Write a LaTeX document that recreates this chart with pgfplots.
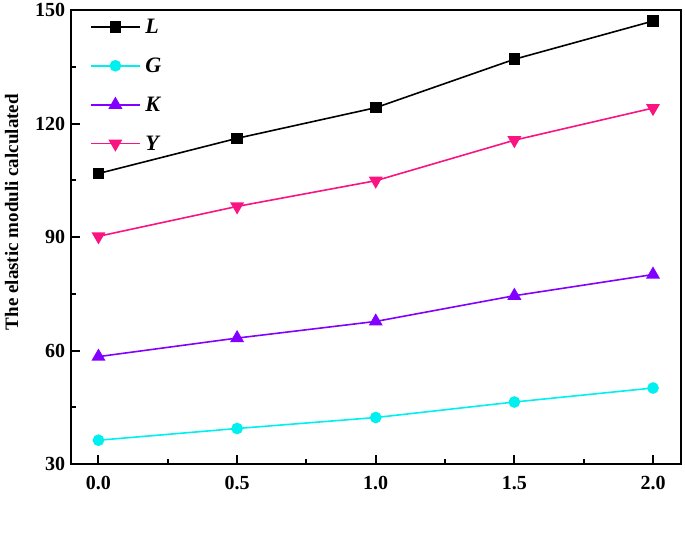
\documentclass[border=0pt]{standalone}
\usepackage{fontspec}
\setmainfont{Liberation Serif}
\usepackage{pgfplots}
\pgfplotsset{compat=1.18}

\definecolor{cL}{RGB}{0,0,0}
\definecolor{cG}{RGB}{0,240,240}
\definecolor{cK}{RGB}{130,0,255}
\definecolor{cY}{RGB}{250,20,130}

\begin{document}
\begin{tikzpicture}
\begin{axis}[
  scale only axis,
  width=610pt, height=454pt,
  xmin=-0.1, xmax=2.1,
  ymin=30, ymax=150,
  xtick={0,0.5,...,2},
  ytick={30,60,...,150},
  minor x tick num=1,
  minor y tick num=1,
  tick align=inside,
  xtick pos=bottom, ytick pos=left,
  major tick length=9pt, minor tick length=5pt,
  axis line style={line width=2.4pt},
  every tick/.style={line width=2pt, black},
  /pgf/number format/assume math mode=true,
  /pgf/number format/.cd, fixed, fixed zerofill, precision=1,
  /pgfplots/.cd,
  yticklabel style={/pgf/number format/precision=0, /pgf/number format/fixed zerofill=false, xshift=-2pt},
  ticklabel style={font=\fontsize{20}{22}\selectfont\bfseries},
  xticklabel style={yshift=-9pt},
  ylabel={The elastic moduli calculated},
  ylabel style={font=\fontsize{19}{21}\selectfont\bfseries, at={(axis description cs:-0.097,0.555)}, anchor=center},
  clip=false,
  legend style={at={(axis description cs:0.027,0.99)}, anchor=north west, draw=none, fill=none,
    font=\fontsize{22}{24}\selectfont\bfseries\itshape, row sep=19pt,
    nodes={inner xsep=5pt}},
  legend cell align=left,
  legend image code/.code={\draw[mark repeat=2,mark phase=2,#1] plot coordinates {(0cm,0cm) (0.85cm,0cm) (1.7cm,0cm)};},
]
\addplot[cL, line width=1.6pt, mark=square*, mark size=5pt] coordinates {
  (0,106.8) (0.5,116.1) (1.0,124.2) (1.5,137.0) (2.0,147.1)};
\addlegendentry{L}
\addplot[cG, line width=1.6pt, mark=*, mark size=5pt] coordinates {
  (0,36.3) (0.5,39.4) (1.0,42.3) (1.5,46.4) (2.0,50.1)};
\addlegendentry{G}
\addplot[cK, line width=1.6pt, mark=triangle*, mark size=6.5pt] coordinates {
  (0,58.4) (0.5,63.3) (1.0,67.7) (1.5,74.5) (2.0,80.1)};
\addlegendentry{K}
\addplot[cY, line width=1.6pt, mark=triangle*, mark options={rotate=180}, mark size=6.5pt] coordinates {
  (0,90.2) (0.5,98.1) (1.0,104.9) (1.5,115.6) (2.0,124.1)};
\addlegendentry{Y}
\path (axis description cs:-0.116,-0.172) rectangle (axis description cs:1.007,1.02);
\end{axis}
\end{tikzpicture}
\end{document}
